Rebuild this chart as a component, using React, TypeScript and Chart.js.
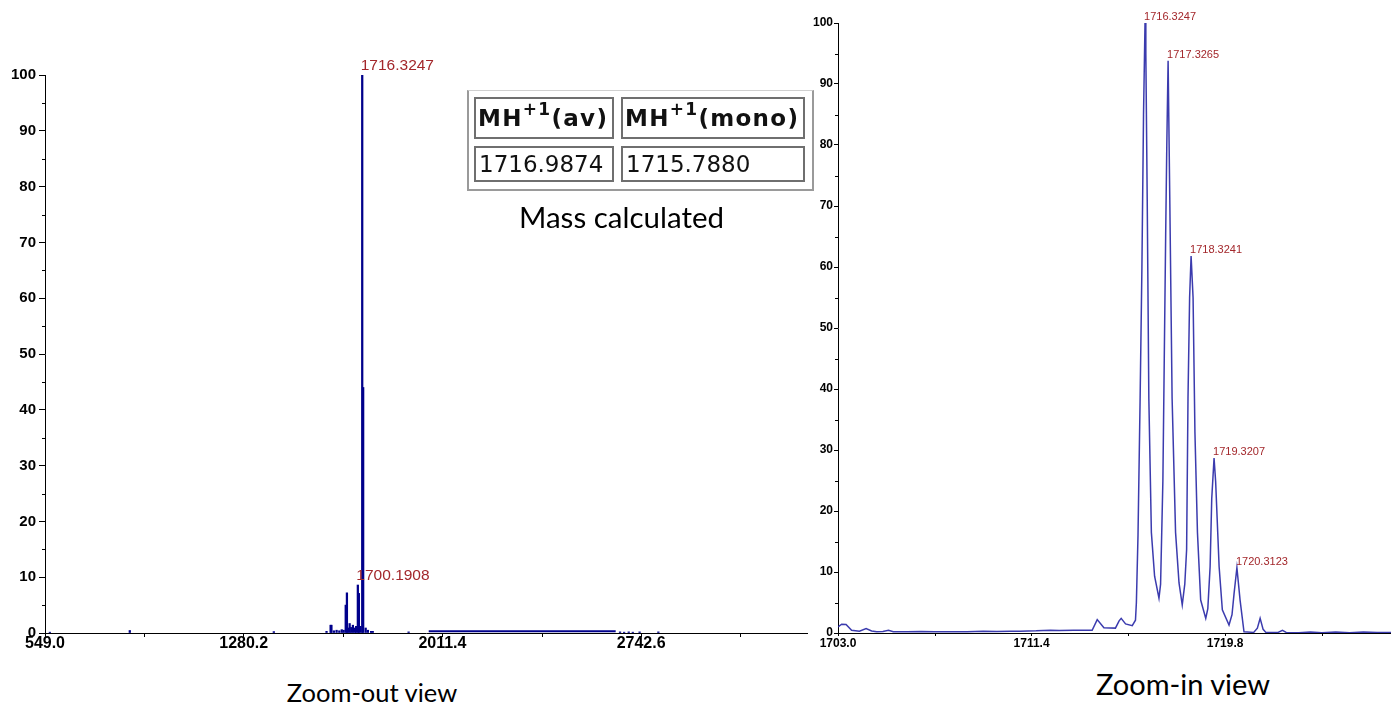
import React, { useEffect, useRef } from 'react';
import { Chart, registerables } from 'chart.js';

Chart.register(...registerables);

// ---------- Zoom-out view (centroided sticks) ----------
const outMz = [567, 861, 1391, 1585, 1600, 1603, 1612, 1622, 1632, 1641, 1648, 1655.6, 1660, 1665, 1670, 1676, 1682, 1689, 1694, 1700.1908, 1704, 1710, 1716.3247, 1719.8, 1729, 1737, 1749, 1755, 1887, 2665, 2680, 2697, 2712, 2737, 2806];
const outInt = [0.15, 0.45, 0.25, 0.3, 1.4, 1.4, 0.4, 0.5, 0.4, 0.6, 0.5, 5.0, 7.2, 0.9, 1.7, 1.0, 1.4, 0.9, 1.2, 8.6, 7.1, 1.2, 100, 44, 0.9, 0.5, 0.3, 0.3, 0.2, 0.2, 0.15, 0.2, 0.15, 0.2, 0.2];
const outBandMz = [1961, 2649];
const outBandInt = [0.3, 0.3];
const outXTicks = [549.0, 1280.2, 2011.4, 2742.6];
const outXMinor = [914.6, 1645.8, 2377.0, 3108.2];
const outXMin = 549.0;
const outXMax = 3353;
const outLabelMz = [1716.3247, 1700.1908];
const outLabelInt = [100, 8.6];

// ---------- Zoom-in view (profile) ----------
const inMz = [
  1703.0, 1703.16, 1703.35, 1703.59, 1703.93, 1704.22, 1704.46, 1704.68, 1704.95, 1705.19, 1705.4,
  1706.0, 1706.6, 1707.2, 1707.8, 1708.6, 1709.3, 1709.9, 1710.5, 1710.91, 1711.6, 1712.22, 1712.6,
  1713.23, 1714.03, 1714.25, 1714.54, 1715.04, 1715.2, 1715.29, 1715.48, 1715.77, 1715.91, 1715.95,
  1716.02, 1716.11, 1716.19, 1716.26, 1716.3247, 1716.36, 1716.42, 1716.49, 1716.6, 1716.74, 1716.93,
  1717.0, 1717.1, 1717.16, 1717.22, 1717.27, 1717.3265, 1717.4, 1717.5, 1717.65, 1717.8, 1717.94,
  1718.05, 1718.13, 1718.19, 1718.26, 1718.3241, 1718.41, 1718.49, 1718.6, 1718.74, 1718.96,
  1719.05, 1719.15, 1719.22, 1719.3207, 1719.39, 1719.54, 1719.68, 1719.97,
  1720.1, 1720.19, 1720.3123, 1720.45, 1720.62, 1721.04, 1721.2, 1721.32, 1721.45, 1721.57,
  1722.1, 1722.29, 1722.45, 1723.0, 1723.5, 1724.0, 1724.6, 1725.2, 1725.8, 1726.4, 1727.0,
];
const inInt = [
  1.0, 1.45, 1.4, 0.45, 0.3, 0.72, 0.33, 0.2, 0.25, 0.45, 0.2,
  0.2, 0.25, 0.2, 0.2, 0.2, 0.3, 0.25, 0.3, 0.3, 0.35, 0.45, 0.4,
  0.45, 0.45, 2.2, 0.85, 0.8, 2.0, 2.4, 1.5, 1.2, 2.1, 5,
  16, 38, 60, 85, 100, 95, 71, 38.5, 16.5, 9.3, 5.7,
  8, 25, 45, 65, 80, 93.8, 71, 38.5, 16.5, 8.2, 4.6,
  8, 13.7, 38.5, 55, 61.8, 55, 33, 16.5, 5.4, 2.4,
  4, 10.9, 22, 28.7, 24.8, 10.9, 3.8, 1.3,
  3, 6.5, 10.7, 5.4, 0.2, 0.1, 0.8, 2.4, 0.6, 0.1,
  0.1, 0.45, 0.1, 0.05, 0.15, 0.05, 0.15, 0.05, 0.15, 0.1, 0.1,
];
const inXTicks = [1703.0, 1711.4, 1719.8];
const inXMinor = [1707.2, 1715.6, 1724.0];
const inXMin = 1703.0;
const inXMax = 1727.0;
const inLabelMz = [1716.3247, 1717.3265, 1718.3241, 1719.3207, 1720.3123];
const inLabelInt = [100, 93.8, 61.8, 28.7, 10.7];

// ---------- shared y axis ----------
const yTicks = [0, 10, 20, 30, 40, 50, 60, 70, 80, 90, 100];
const yMinor = [5, 15, 25, 35, 45, 55, 65, 75, 85, 95];

// ---------- calculated mass table ----------
const tableHeaders = ['av', 'mono'];
const tableValues = ['1716.9874', '1715.7880'];

const SANS = "'Liberation Sans', Arial, sans-serif";
const LABEL_RED = '#a3272b';

type OverlayCfg = {
  xMinor: number[];
  yMinor: number[];
  xMinorLen: number;
  yMinorLen: number;
  labelMz: number[];
  labelInt: number[];
  labelFont: string;
  dx: number;
  dy: number;
};

function overlayPlugin(cfg: OverlayCfg) {
  return {
    id: 'overlay',
    afterDraw(chart: any) {
      const { ctx, chartArea, scales } = chart;
      const xs = scales.x;
      const ys = scales.y;
      ctx.save();
      ctx.strokeStyle = '#000';
      ctx.lineWidth = 1;
      cfg.xMinor.forEach((v) => {
        const px = Math.round(xs.getPixelForValue(v)) + 0.5;
        ctx.beginPath();
        ctx.moveTo(px, chartArea.bottom);
        ctx.lineTo(px, chartArea.bottom + cfg.xMinorLen);
        ctx.stroke();
      });
      cfg.yMinor.forEach((v) => {
        const py = Math.round(ys.getPixelForValue(v)) + 0.5;
        ctx.beginPath();
        ctx.moveTo(chartArea.left - cfg.yMinorLen, py);
        ctx.lineTo(chartArea.left, py);
        ctx.stroke();
      });
      ctx.font = cfg.labelFont;
      ctx.fillStyle = LABEL_RED;
      ctx.textAlign = 'left';
      ctx.textBaseline = 'alphabetic';
      cfg.labelMz.forEach((m, i) => {
        ctx.fillText(m.toFixed(4), xs.getPixelForValue(m) + cfg.dx, ys.getPixelForValue(cfg.labelInt[i]) + cfg.dy);
      });
      ctx.restore();
    },
  };
}

function ZoomOutChart() {
  const ref = useRef<HTMLCanvasElement | null>(null);
  useEffect(() => {
    if (!ref.current) return;
    const chart = new Chart(ref.current, {
      type: 'bar',
      data: {
        datasets: [
          {
            type: 'bar',
            data: outMz.map((m, i) => ({ x: m, y: outInt[i] })),
            backgroundColor: '#00008b',
            borderWidth: 0,
            barThickness: 1.6,
          } as any,
          {
            type: 'line',
            data: outBandMz.map((m, i) => ({ x: m, y: outBandInt[i] })),
            borderColor: '#00008b',
            borderWidth: 2,
            pointRadius: 0,
          } as any,
        ],
      },
      options: {
        responsive: false,
        animation: false,
        events: [],
        layout: { padding: { top: 25, right: 5, bottom: 0, left: 0 } },
        plugins: { legend: { display: false }, tooltip: { enabled: false } },
        scales: {
          x: {
            type: 'linear',
            offset: false,
            min: outXMin,
            max: outXMax,
            afterBuildTicks: (s: any) => { s.ticks = outXTicks.map((v) => ({ value: v })); },
            afterFit: (s: any) => { s.height = 27; },
            ticks: {
              autoSkip: false,
              maxRotation: 0,
              padding: -3,
              color: '#000',
              font: { family: SANS, size: 16, weight: 'bold' },
              callback: (v: any) => Number(v).toFixed(1),
            },
            grid: { display: true, offset: false, drawOnChartArea: false, drawTicks: true, tickLength: 4, color: '#000' },
            border: { display: true, color: '#000', width: 1 },
          },
          y: {
            type: 'linear',
            min: 0,
            max: 100,
            afterBuildTicks: (s: any) => { s.ticks = yTicks.map((v) => ({ value: v })); },
            afterFit: (s: any) => { s.width = 45; },
            ticks: {
              autoSkip: false,
              padding: 3,
              color: '#000',
              font: { family: SANS, size: 15, weight: 'bold' },
            },
            grid: { display: true, drawOnChartArea: false, drawTicks: true, tickLength: 6, color: '#000' },
            border: { display: true, color: '#000', width: 1 },
          },
        },
      } as any,
      plugins: [
        overlayPlugin({
          xMinor: outXMinor,
          yMinor: yMinor,
          xMinorLen: 4,
          yMinorLen: 3,
          labelMz: outLabelMz,
          labelInt: outLabelInt,
          labelFont: `15.5px ${SANS}`,
          dx: -1.5,
          dy: -5,
        }),
      ],
    });
    return () => chart.destroy();
  }, []);
  return (
    <canvas
      ref={ref}
      width={812}
      height={610}
      style={{ position: 'absolute', left: 0, top: 50, width: 812, height: 610 }}
    />
  );
}

function ZoomInChart() {
  const ref = useRef<HTMLCanvasElement | null>(null);
  useEffect(() => {
    if (!ref.current) return;
    const chart = new Chart(ref.current, {
      type: 'line',
      data: {
        datasets: [
          {
            data: inMz.map((m, i) => ({ x: m, y: inInt[i] })),
            borderColor: 'rgba(38, 38, 165, 0.9)',
            borderWidth: 1.5,
            pointRadius: 0,
            tension: 0,
          },
        ],
      },
      options: {
        responsive: false,
        animation: false,
        events: [],
        layout: { padding: { top: 23, right: 0, bottom: 0, left: 0 } },
        plugins: { legend: { display: false }, tooltip: { enabled: false } },
        scales: {
          x: {
            type: 'linear',
            offset: false,
            min: inXMin,
            max: inXMax,
            afterBuildTicks: (s: any) => { s.ticks = inXTicks.map((v) => ({ value: v })); },
            afterFit: (s: any) => { s.height = 27; },
            ticks: {
              autoSkip: false,
              maxRotation: 0,
              padding: 0,
              color: '#000',
              font: { family: SANS, size: 12, weight: 'bold' },
              callback: (v: any) => Number(v).toFixed(1),
            },
            grid: { display: true, drawOnChartArea: false, drawTicks: true, tickLength: 3, color: '#000' },
            border: { display: true, color: '#000', width: 1 },
          },
          y: {
            type: 'linear',
            min: 0,
            max: 100,
            afterBuildTicks: (s: any) => { s.ticks = yTicks.map((v) => ({ value: v })); },
            afterFit: (s: any) => { s.width = 26; },
            ticks: {
              autoSkip: false,
              padding: 1,
              color: '#000',
              font: { family: SANS, size: 12, weight: 'bold' },
            },
            grid: { display: true, drawOnChartArea: false, drawTicks: true, tickLength: 4, color: '#000' },
            border: { display: true, color: '#000', width: 1 },
          },
        },
      } as any,
      plugins: [
        overlayPlugin({
          xMinor: inXMinor,
          yMinor: yMinor,
          xMinorLen: 3,
          yMinorLen: 3,
          labelMz: inLabelMz,
          labelInt: inLabelInt,
          labelFont: `11px ${SANS}`,
          dx: -1,
          dy: -3,
        }),
      ],
    });
    return () => chart.destroy();
  }, []);
  return (
    <canvas
      ref={ref}
      width={579}
      height={660}
      style={{ position: 'absolute', left: 812, top: 0, width: 579, height: 660 }}
    />
  );
}

function MassTable() {
  const cellBorder = '2px solid #6f6f6f';
  const cols = [
    { left: 474, width: 140 },
    { left: 621, width: 184 },
  ];
  const textStyle: React.CSSProperties = {
    fontFamily: "'DejaVu Sans', Verdana, sans-serif",
    color: '#111',
    whiteSpace: 'nowrap',
    position: 'absolute',
    left: 2,
  };
  return (
    <>
      <div
        style={{
          position: 'absolute',
          left: 467,
          top: 90,
          width: 343,
          height: 98,
          borderLeft: '2px solid #9a9a9a',
          borderRight: '2px solid #9a9a9a',
          borderBottom: '2px solid #9a9a9a',
          borderTop: '1px solid #d0d0d0',
        }}
      />
      {cols.map((c, i) => (
        <React.Fragment key={i}>
          <div
            style={{
              position: 'absolute',
              left: c.left,
              top: 97,
              width: c.width - 4,
              height: 38,
              border: cellBorder,
            }}
          >
            <span style={{ ...textStyle, top: 4, fontSize: 23, fontWeight: 'bold', lineHeight: '30px', letterSpacing: 1.3 }}>
              MH<sup style={{ fontSize: 17, verticalAlign: 'top', lineHeight: '18px', position: 'relative', top: -3 }}>+1</sup>({tableHeaders[i]})
            </span>
          </div>
          <div
            style={{
              position: 'absolute',
              left: c.left,
              top: 146,
              width: c.width - 4,
              height: 32,
              border: cellBorder,
            }}
          >
            <span style={{ ...textStyle, left: 3, top: 2, fontSize: 23, lineHeight: '28px' }}>{tableValues[i]}</span>
          </div>
        </React.Fragment>
      ))}
    </>
  );
}

const captionStyle: React.CSSProperties = {
  position: 'absolute',
  fontFamily: "Lato, 'Open Sans', sans-serif",
  color: '#000',
  lineHeight: 1,
  whiteSpace: 'nowrap',
  transform: 'translateX(-50%)',
};

export default function App() {
  return (
    <div
      style={{
        position: 'absolute',
        left: 0,
        top: 0,
        width: 1391,
        height: 708,
        overflow: 'hidden',
        background: '#fff',
      }}
    >
      <ZoomOutChart />
      <ZoomInChart />
      <MassTable />
      <div style={{ ...captionStyle, left: 621.5, top: 202, fontSize: 29.5 }}>Mass calculated</div>
      <div style={{ ...captionStyle, left: 372, top: 680, fontSize: 25.5 }}>Zoom-out view</div>
      <div style={{ ...captionStyle, left: 1183, top: 669, fontSize: 29 }}>Zoom-in view</div>
    </div>
  );
}
